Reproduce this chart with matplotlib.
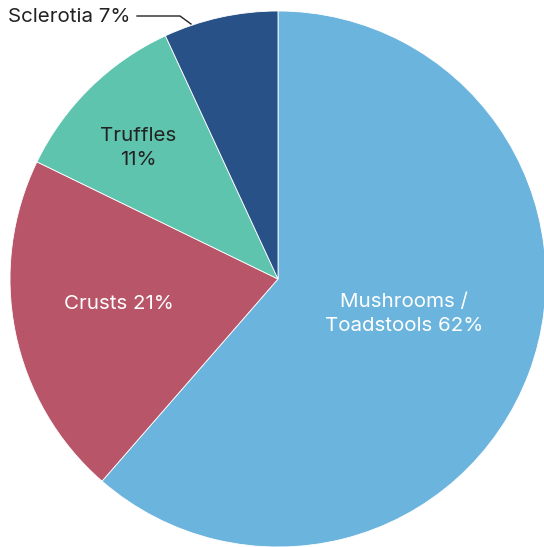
import matplotlib.pyplot as plt

labels = ['Mushrooms /\nToadstools 62%', 'Crusts 21%', 'Truffles\n11%', 'Sclerotia 7%']
values = [61.4, 20.8, 10.9, 6.9]
colors = ['#6BB4DD', '#B85568', '#5EC4AD', '#285287']

plt.rcParams['font.family'] = ['Inter', 'DejaVu Sans']

W, H = 544, 547
fig = plt.figure(figsize=(W / 100, H / 100), dpi=100)
ax = fig.add_axes([0, 0, 1, 1])

cx, cy, r = 278, H - 279, 268
ax.pie(values, colors=colors, startangle=90, counterclock=False,
       center=(cx, cy), radius=r, frame=True,
       wedgeprops=dict(edgecolor='white', linewidth=0.6))
ax.set_xlim(0, W)
ax.set_ylim(0, H)
ax.set_aspect('equal')
ax.axis('off')

fs = 14.8
ax.text(404, H - 314, labels[0], ha='center', va='center', color='white', fontsize=fs, linespacing=1.45)
ax.text(119, H - 304, labels[1], ha='center', va='center', color='white', fontsize=fs)
ax.text(138, H - 148, labels[2], ha='center', va='center', color='#222222', fontsize=fs, linespacing=1.45)
ax.text(8, H - 17, labels[3], ha='left', va='center', color='#222222', fontsize=fs)
ax.plot([137, 180, 191], [H - 16, H - 16, H - 24], color='#222222', lw=1)

fig.savefig('out.png', dpi=100)
